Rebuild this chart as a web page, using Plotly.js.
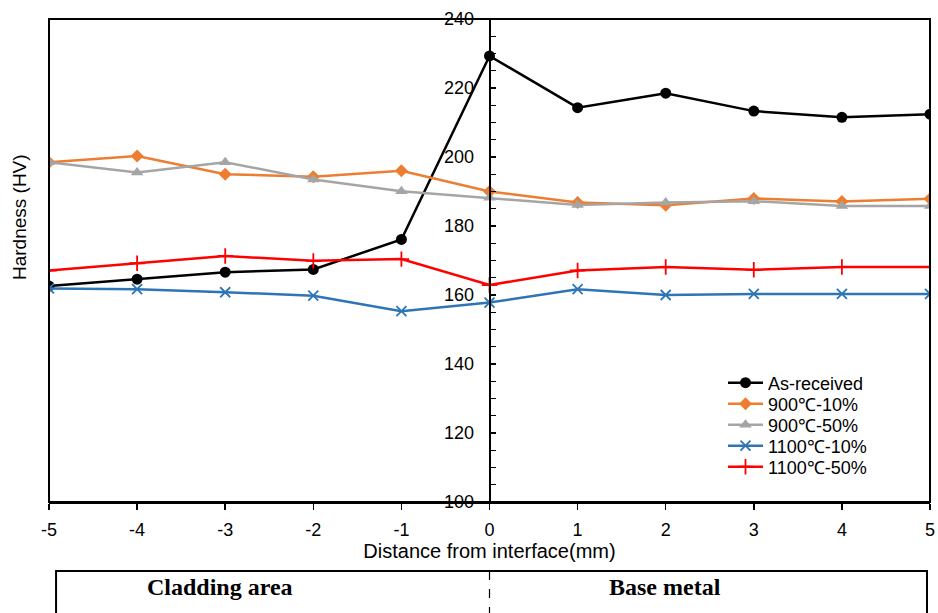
<!DOCTYPE html>
<html>
<head>
<meta charset="utf-8">
<script src="https://cdn.plot.ly/plotly-3.0.1.min.js"></script>
<style>
  html, body { margin: 0; padding: 0; background: #fff; }
  #chart { width: 938px; height: 613px; }
</style>
</head>
<body>
<div id="chart"></div>
<script>
// Distance from the cladding/base-metal interface (mm)
const distance = [-5, -4, -3, -2, -1, 0, 1, 2, 3, 4, 5];

// Vickers hardness profiles (HV)
const asReceived = [162.6, 164.6, 166.6, 167.4, 176.1, 229.3, 214.3, 218.5, 213.3, 211.5, 212.4];
const t900_10    = [198.5, 200.3, 195.0, 194.3, 196.0, 190.0, 186.8, 186.0, 188.0, 187.1, 187.9];
const t900_50    = [198.5, 195.5, 198.5, 193.5, 190.1, 188.2, 186.1, 186.8, 187.2, 185.8, 185.8];
const t1100_10   = [161.9, 161.7, 160.8, 159.8, 155.3, 157.8, 161.7, 160.0, 160.3, 160.3, 160.3];
const t1100_50   = [167.1, 169.2, 171.3, 169.9, 170.4, 162.9, 167.1, 168.1, 167.3, 168.1, 168.1];

const seriesNames = ['As-received', '900\u2103-10%', '900\u2103-50%', '1100\u2103-10%', '1100\u2103-50%'];
const xTicks = [-5, -4, -3, -2, -1, 0, 1, 2, 3, 4, 5];
const yTicks = [100, 120, 140, 160, 180, 200, 220, 240];
const yRange = [100, 240];
const regionLabels = ['Cladding area', 'Base metal'];

const font = { family: 'Arial, "Liberation Sans", sans-serif', color: '#000' };
const serif = { family: '"Liberation Serif", "Times New Roman", serif', color: '#000' };

// each series gets its own legend box so the rows can sit close together
const legendIds = ['legend', 'legend2', 'legend3', 'legend4', 'legend5'];

function series(i, y, color, symbol, size, lineWidth) {
  return {
    x: distance, y: y, name: seriesNames[i], type: 'scatter', mode: 'lines+markers',
    legend: legendIds[i],
    line: { color: color, width: 2.5 },
    marker: { color: color, symbol: symbol, size: size,
              line: { color: color, width: lineWidth || 0 } }
  };
}

const traces = [
  series(0, asReceived, '#000000', 'circle', 11),
  series(1, t900_10, '#ED7D31', 'diamond', 10),
  series(2, t900_50, '#A5A5A5', 'triangle-up', 11),
  series(3, t1100_10, '#2E75B6', 'x-thin', 10, 1.8),
  series(4, t1100_50, '#FF0000', 'cross-thin', 11, 1.8)
];

const layout = {
  width: 938, height: 613,
  margin: { l: 49, r: 8, t: 19, b: 111 },
  paper_bgcolor: '#fff', plot_bgcolor: '#fff',
  font: Object.assign({ size: 18 }, font),
  showlegend: true,
  xaxis: {
    range: [-5, 5], tickvals: xTicks, ticktext: xTicks.map(String),
    showgrid: false, zeroline: false,
    showline: true, linecolor: '#000', linewidth: 2,
    ticks: 'outside', ticklen: 6, tickcolor: '#000', tickwidth: 1.5,
    ticklabelstandoff: 4,
    tickfont: Object.assign({ size: 18 }, font),
    title: { text: 'Distance from interface(mm)', standoff: 4,
             font: Object.assign({ size: 20 }, font) }
  },
  // value axis drawn through x = 0 with inward ticks
  yaxis: {
    range: yRange, tickvals: yTicks,
    anchor: 'free', position: 0.5,
    showgrid: false, zeroline: false, showticklabels: false,
    showline: true, linecolor: '#000', linewidth: 2,
    ticks: 'inside', ticklen: 5, tickcolor: '#000', tickwidth: 1.5,
    minor: { tick0: 100, dtick: 5, ticks: 'inside', ticklen: 5, tickcolor: '#000', tickwidth: 1.2, showgrid: false }
  },
  shapes: [
    // plot frame
    { type: 'rect', xref: 'paper', yref: 'paper', x0: 0, x1: 1, y0: 0, y1: 1,
      line: { color: '#000', width: 2 }, layer: 'above' },
    // region band beneath the axis
    { type: 'rect', xref: 'paper', yref: 'paper', x0: 0.008, x1: 0.9966, y0: -0.1429, y1: -0.245,
      line: { color: '#000', width: 2 } },
    { type: 'line', xref: 'x', yref: 'paper', x0: 0, x1: 0, y0: -0.1429, y1: -0.245,
      line: { color: '#000', width: 1.2, dash: 'dash' } }
  ],
  annotations: [
    { text: 'Hardness (HV)', xref: 'paper', yref: 'paper', x: -0.0335, y: 0.591,
      xanchor: 'center', yanchor: 'middle',
      textangle: -90, showarrow: false, font: Object.assign({ size: 19 }, font) },
    { text: '<b>' + regionLabels[0] + '</b>', xref: 'x', yref: 'paper', x: -3.06, y: -0.176,
      xanchor: 'center', yanchor: 'middle', showarrow: false,
      font: Object.assign({ size: 24 }, serif) },
    { text: '<b>' + regionLabels[1] + '</b>', xref: 'x', yref: 'paper', x: 1.99, y: -0.176,
      xanchor: 'center', yanchor: 'middle', showarrow: false,
      font: Object.assign({ size: 24 }, serif) }
  ]
};

// value-axis labels, set off to the left of the axis line at x = 0
yTicks.forEach(function (v) {
  layout.annotations.push({
    text: String(v), xref: 'x', yref: 'y', x: 0, y: v,
    xanchor: 'right', yanchor: 'middle', xshift: -14, showarrow: false,
    font: Object.assign({ size: 18 }, font)
  });
});

// legend rows, 21 px apart, starting at y = 383 px
const plotTop = 19, plotH = 483;
legendIds.forEach(function (id, i) {
  const py = 383 + 21 * i;
  layout[id] = {
    x: (723 - 49) / 881, y: 1 - (py - plotTop) / plotH,
    xanchor: 'left', yanchor: 'middle',
    bgcolor: 'rgba(0,0,0,0)', borderwidth: 0,
    itemwidth: 35,
    font: Object.assign({ size: 18 }, font)
  };
});

Plotly.newPlot('chart', traces, layout, { displayModeBar: false, staticPlot: true });
</script>
</body>
</html>
